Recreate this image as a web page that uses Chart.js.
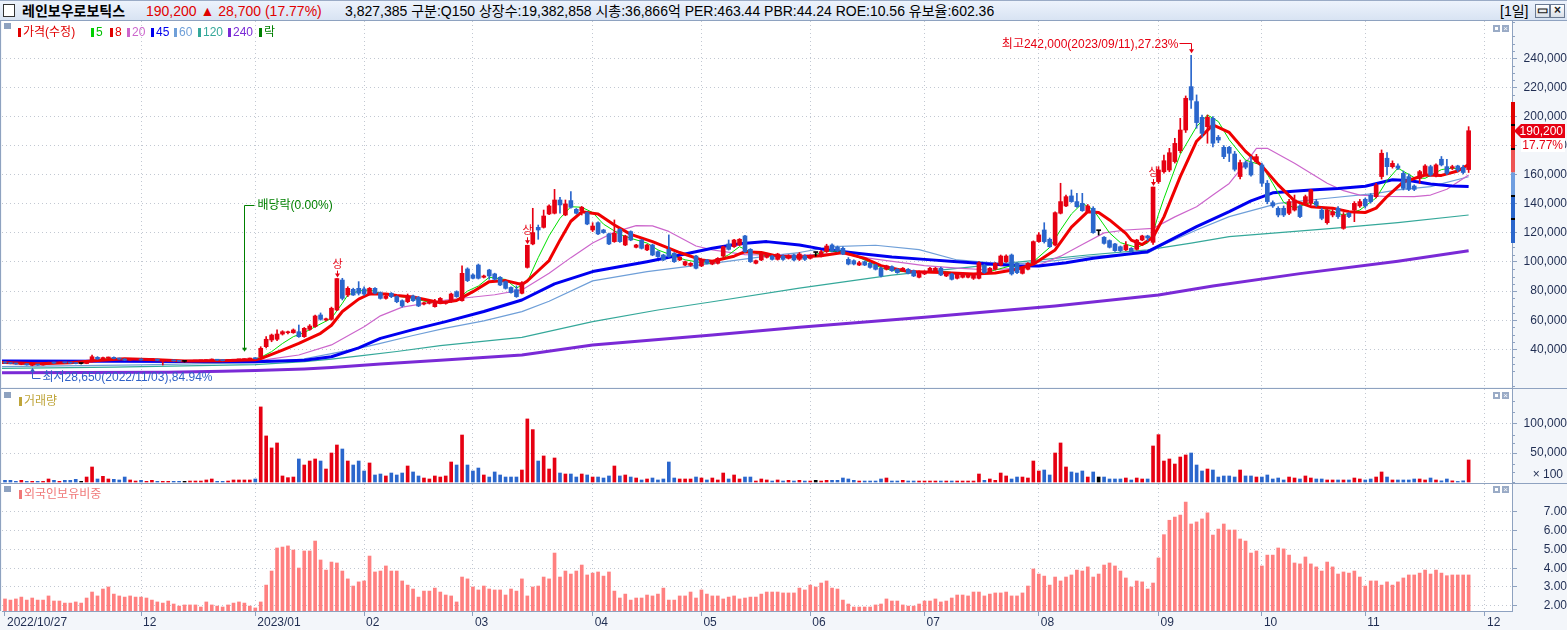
<!DOCTYPE html>
<html lang="ko">
<head>
<meta charset="utf-8">
<title>레인보우로보틱스 일봉</title>
<script src="https://cdn.jsdelivr.net/npm/chart.js@4.4.1/dist/chart.umd.min.js"></script>
<style>
*{box-sizing:border-box}
html,body{margin:0;padding:0}
body{width:1567px;height:630px;overflow:hidden;position:relative;background:#f3f6fa;font-family:"Liberation Sans","Noto Sans CJK KR",sans-serif;}
#title{position:absolute;left:0;top:0;width:1567px;height:21px;background:linear-gradient(#edf3fc,#d8e3f3);border-top:1px solid #9aabc6;border-bottom:1px solid #8ea2c0;font-size:14px;white-space:nowrap;z-index:7}
#title .t{position:absolute;top:1px;line-height:18px}
.chk{position:absolute;left:3px;top:3px;width:12px;height:13px;background:#fff;border:1px solid #333}
.tbtn{position:absolute;top:3px;width:15px;height:14px;border:1px solid #6b7a92;background:linear-gradient(#ffffff,#d9dfe8);font-size:12px;line-height:11px;text-align:center;color:#222;font-weight:bold}
canvas{position:absolute;left:0}
.hl{position:absolute;left:0;width:1567px;height:1px;background:#8ea2c0;z-index:5}
.vl{position:absolute;top:20px;left:0;width:1px;height:591px;background:#8ea2c0;z-index:5}
.leg{position:absolute;font-size:12px;line-height:14px;white-space:nowrap;z-index:6}
.mk{position:absolute;width:3px;height:9px;z-index:6}
.sq{position:absolute;left:4px;width:7px;height:6px;background:#8ea2c0;z-index:6}
.pb1{position:absolute;left:1493px;width:7px;height:7px;border:2px solid #9aabc6;background:#fff;z-index:6}
.pb2{position:absolute;left:1502px;width:7px;height:7px;background:#9aabc6;color:#fff;font-size:8px;line-height:7px;text-align:center;z-index:6}
</style>
</head>
<body>
<div id="title">
  <div class="chk"></div>
  <span class="t" style="left:22px;font-weight:bold;color:#000">레인보우로보틱스</span>
  <span class="t" style="left:146px;color:#e00000">190,200 ▲ 28,700 (17.77%)</span>
  <span class="t" style="left:345px;color:#000">3,827,385 구분:Q150 상장수:19,382,858 시총:36,866억 PER:463.44 PBR:44.24 ROE:10.56 유보율:602.36</span>
  <span class="t" style="left:1500px;color:#000">[1일]</span>
  <div class="tbtn" style="left:1535px">▭</div>
  <div class="tbtn" style="left:1550px">×</div>
</div>

<canvas id="cPrice" width="1567" height="368" style="top:20px"></canvas>
<canvas id="cVol" width="1567" height="96" style="top:388px"></canvas>
<canvas id="cFor" width="1567" height="147" style="top:483px"></canvas>

<div class="hl" style="top:388px"></div>
<div class="hl" style="top:483px"></div>
<div class="vl"></div>

<!-- price legend -->
<div class="sq" style="top:23px"></div>
<div class="mk" style="left:18px;top:28px;background:#e00000"></div><span class="leg" style="left:23px;top:25px;color:#e00000">가격(수정)</span>
<div class="mk" style="left:91px;top:28px;background:#00d000"></div><span class="leg" style="left:96px;top:25px;color:#00c000">5</span>
<div class="mk" style="left:110px;top:28px;background:#e00000"></div><span class="leg" style="left:115px;top:25px;color:#e00000">8</span>
<div class="mk" style="left:127px;top:28px;background:#cc66cc"></div><span class="leg" style="left:132px;top:25px;color:#cc66cc">20</span>
<div class="mk" style="left:151px;top:28px;background:#0000ee"></div><span class="leg" style="left:156px;top:25px;color:#0000ee">45</span>
<div class="mk" style="left:174px;top:28px;background:#6f9fd8"></div><span class="leg" style="left:179px;top:25px;color:#6f9fd8">60</span>
<div class="mk" style="left:198px;top:28px;background:#35a89a"></div><span class="leg" style="left:203px;top:25px;color:#35a89a">120</span>
<div class="mk" style="left:228px;top:28px;background:#7a2ad6"></div><span class="leg" style="left:233px;top:25px;color:#7a2ad6">240</span>
<div class="mk" style="left:259px;top:28px;background:#008000"></div><span class="leg" style="left:264px;top:25px;color:#008000">락</span>
<div class="pb1" style="top:25px"></div><div class="pb2" style="top:25px">×</div>

<!-- volume legend -->
<div class="sq" style="top:392px"></div>
<div class="mk" style="left:19px;top:397px;background:#bfa53a"></div><span class="leg" style="left:24px;top:394px;color:#bfa53a">거래량</span>
<div class="pb1" style="top:392px"></div><div class="pb2" style="top:392px">×</div>

<!-- foreign legend -->
<div class="sq" style="top:486px"></div>
<div class="mk" style="left:19px;top:490px;background:#f07878"></div><span class="leg" style="left:24px;top:487px;color:#f07878">외국인보유비중</span>
<div class="pb1" style="top:486px"></div><div class="pb2" style="top:486px">×</div>

<script>
// ---------------- DATA ----------------
const monthIdx    = [0, 25, 46, 66, 86, 108, 128, 148, 169, 190, 212, 231, 250, 272];
const monthLabels = ['2022/10/27','12','2023/01','02','03','04','05','06','07','08','09','10','11','12'];
const priceTicks   = [40000,60000,80000,100000,120000,140000,160000,180000,200000,220000,240000];
const volumeTicks  = [50000,100000];
const foreignTicks = [2,3,4,5,6,7];

const opens = [
31200,30600,30200,29700,30100,29000,29500,29200,30000,31000,
30500,31100,30700,30500,30200,30200,31500,34500,33400,34000,
34500,33700,33300,32500,33000,33300,32700,33000,33200,31800,
32300,32600,32000,31700,31700,31900,32100,32200,32600,33000,
32500,32200,32500,32800,32900,33300,34000,34900,41800,46400,
46900,50500,51400,51400,52100,48700,53700,55600,63600,60100,
60600,67000,87600,77300,81200,81900,81500,78000,81900,78900,
75000,78500,76200,73400,72700,76600,75700,71100,71600,69300,
72000,71600,72700,79600,73400,95200,91100,97900,89500,94500,
91800,89500,86500,82500,81000,78500,96300,112400,123800,123800,
133000,133500,142600,132300,142200,136200,135300,133900,122000,127000,
122000,119300,114000,122500,111700,120900,110100,115100,108300,111700,
107100,104800,108700,106000,101400,97900,97700,104100,97300,101400,
98600,99100,104100,112400,110500,111700,117900,108700,99100,101400,
103200,104100,101800,104100,102500,104800,101800,104100,102500,106500,
104100,107100,111700,110100,109400,101800,100900,97900,100200,99100,
97900,95700,95000,96800,95000,94000,95000,94000,89500,91800,
94000,94000,95700,90400,91800,88800,89500,89500,88800,88800,
97900,92700,95000,97900,100200,104800,99100,92200,95000,99100,
114000,122000,115600,111700,133500,138500,145400,141500,140300,134600,
136900,121500,117000,114700,112400,110500,108300,109400,108700,115100,
117900,113500,155200,162000,163200,169000,176500,190700,220500,210200,
199400,193000,198700,185700,178800,178800,174200,158700,168300,168300,
169000,166700,154100,140800,136900,136900,133500,135700,138500,140300,
140300,141500,135700,127000,132300,136900,123100,133500,135700,138500,
143100,146000,144900,158700,171300,165500,166000,160900,158700,152200,
157500,160500,165500,159100,170600,165500,164500,166000,165000,163500];

const highs = [
31500,30900,30500,30300,30200,29700,29800,30200,31200,31300,
31300,31300,31000,30800,30600,31600,36100,35000,34600,34700,
34800,34000,33600,33500,33600,33400,33300,33500,33300,32500,
32800,32700,32200,32000,32100,32300,32400,32800,33400,33100,
32700,32700,33000,33100,33500,34000,34400,41800,48700,50500,
53300,52800,52500,54000,56700,55000,57000,63500,65000,61500,
69000,88600,88800,83000,82000,86500,83000,82500,82500,79500,
77500,79000,76800,74000,78000,77200,76300,72500,73200,74300,
75600,73200,78600,80200,97300,96000,91800,98600,91000,95000,
92300,90000,87000,83000,83600,86500,111500,136900,125400,135700,
139200,149900,144500,142600,148300,136800,138200,134500,127000,127600,
122500,119800,128900,123000,118400,121400,112200,115600,112200,112200,
107600,105300,118600,106500,103700,100700,99600,104600,102300,101900,
100700,103000,111000,115100,115600,116100,118400,109200,101400,106000,
106000,104600,106000,105000,105000,105500,106500,105000,104800,106500,
108000,112200,112500,111000,110500,103000,101500,100500,100800,99800,
98500,96500,97800,97300,95500,96200,95500,94500,94000,94000,
96300,96300,96500,92700,92300,92300,92700,91600,91600,100200,
98500,96200,99600,104800,105000,105500,99600,96200,99600,114500,
120200,127000,116500,134500,154100,146000,149500,147200,147200,139500,
138000,121500,117500,115200,112900,111000,114000,109900,115600,118400,
118400,151500,165500,173500,178100,185000,198700,214100,242000,214800,
201000,201000,200000,187000,180000,179500,176000,170000,169500,172400,
174000,168000,156000,142000,138000,138500,143000,146000,139500,146000,
150000,143000,137000,137000,136000,138000,134000,134000,141500,143000,
144000,147000,154000,177000,175200,169500,167500,162500,160500,153000,
163000,167000,166500,167500,172500,170500,166500,166500,166500,193000];

const lows = [
30300,30000,29700,29400,29100,28650,29000,29100,29900,30300,
30400,30500,30300,30000,29900,30100,31300,33000,33100,33600,
33400,33000,32200,32300,32800,32500,32500,32800,32200,29200,
32000,31800,31500,31200,31500,31700,31900,32000,32400,32300,
32000,32000,32300,32500,32700,33100,33300,33800,41000,45200,
46000,49800,50500,51000,48200,48200,53000,55000,60000,59500,
60000,66500,73900,76200,77000,77300,77000,77300,78000,74500,
74500,75500,72000,69000,72000,72900,69300,70500,71100,68900,
71500,71000,72200,75700,73000,86500,88300,88300,89000,88100,
87600,83700,81400,78500,75700,78000,95800,111800,115600,123300,
132500,133000,133500,131800,137000,133000,132300,125600,120900,118800,
119700,111900,113500,113500,111200,114600,109600,108900,107800,104300,
103200,100900,103200,99700,100900,97400,97000,95200,96800,98600,
98100,98600,103600,108200,110000,111200,106600,99700,98600,100900,
102700,101300,101300,101000,102000,100800,101000,101000,102000,104000,
103500,106500,107000,107000,105000,98000,98000,97500,97500,95800,
94500,89800,94500,93500,92200,93500,91800,89900,89000,91300,
93500,93500,90600,89900,87600,88300,89000,89000,88000,88300,
92200,92200,94500,97400,99700,91000,92000,91700,94500,98600,
113500,113000,110000,111000,133000,138000,141000,137500,134800,134000,
119700,118500,112300,109600,107300,107000,107800,106600,108200,114600,
114600,112000,154000,161000,162000,168000,175000,189000,205600,191900,
186000,181600,179000,182000,171000,169000,162500,157000,164000,159000,
168000,152000,140000,137500,131000,131200,132500,135000,130500,139500,
139000,138000,129000,126000,131000,130000,122500,130500,127700,137500,
137000,140500,144000,157000,159800,164500,163500,149500,149000,149000,
154000,159500,159000,158500,166000,160000,163500,162000,160500,161500];

const closes = [
30600,30200,29900,30100,29300,29500,29200,30000,31000,30500,
31100,30700,30500,30200,30200,31400,34900,33400,34300,34500,
33700,33300,32500,33200,33300,32700,33100,33200,32400,32300,
32600,32000,31700,31700,31900,32100,32200,32600,33000,32500,
32200,32500,32800,32900,33300,33700,33500,40700,46900,49800,
50500,52100,51900,53300,48700,54400,56000,62900,60600,61000,
68200,88600,75000,81900,77300,78500,78000,81900,78500,75000,
76600,76200,72700,69800,76200,73400,69800,72000,72700,72700,
75000,72700,78000,76200,92200,87200,88800,88800,90400,90400,
88100,84200,81900,79000,76200,85800,111500,120200,122000,131600,
138500,142600,139200,139900,137600,133500,137600,126100,124700,119300,
120200,112400,119700,114000,117900,115100,111700,109400,111700,104800,
103700,101400,103700,100200,103200,100200,99100,95700,101800,99100,
100200,102500,110500,108700,115100,115600,107100,100200,100900,105500,
105500,101800,105500,101800,104100,101400,105500,101800,104100,106500,
107100,111000,107800,107800,105500,98600,98600,99500,97900,96300,
95000,90400,97300,94000,92700,95700,92200,90400,93400,93400,
95700,95700,91100,92200,88100,91800,92200,91100,91100,99500,
92700,95700,99100,104100,104100,91800,92700,95700,99100,114000,
118600,114000,110500,133900,141500,144900,141500,138000,135300,138500,
120200,121500,112800,110100,107800,107800,111700,107100,115100,117900,
116500,151500,163200,169600,175100,181500,190700,212500,211300,195800,
188400,199400,181600,183800,172400,174700,163700,168300,165100,159800,
172400,154100,141500,138500,132300,132300,141500,142600,131200,144900,
149500,139200,130000,135700,134600,131200,132300,131200,140300,141500,
138500,141500,152900,174700,165500,167800,164400,150600,149900,149900,
162100,166000,159800,166700,166700,160900,165500,163200,161500,190200];

const volumes = [
2900,2900,1200,2900,1200,1200,1200,1200,5200,2900,
1200,2900,2900,4600,1200,8600,25900,5200,9800,5200,
4600,3500,8600,3500,1700,2900,1200,2900,1200,1200,
1200,1200,1200,1200,1700,1700,1700,3500,5200,1200,
1200,1700,3500,3500,3500,3500,5200,129400,79400,58700,
67300,10400,7500,8600,39700,29300,36200,39700,36200,22400,
50000,63800,56900,36200,29300,36200,19000,32800,12100,13800,
10400,15500,12100,15500,27600,17300,10400,6900,5200,10400,
8600,10400,34500,29300,81000,29300,19000,24100,12100,8600,
17300,12100,8600,8600,8600,20700,108700,90300,36200,44900,
22400,41400,15500,13800,13800,8600,13800,12100,8600,8600,
6900,10400,27600,10400,12100,8600,6900,3500,5200,6900,
3500,5200,34500,6900,5200,5200,5200,8600,6900,3500,
6900,3500,15500,5200,12100,5200,8600,8600,1700,5200,
3500,1700,3500,1700,2900,1700,2900,1700,1700,2900,
1700,2900,2900,2900,6900,5200,2900,1700,1700,1700,
1700,5200,6900,1700,1700,2900,1700,1700,1700,1700,
1700,1700,1700,1700,1700,1700,1700,1700,1700,13800,
2900,5200,2900,15500,10400,5200,8600,8600,6900,36200,
19000,20700,12100,50000,67300,25900,17300,15500,19000,8600,
17300,8600,8600,5200,5200,5200,6900,3500,6900,5200,
5200,62100,81600,36200,39700,31000,43100,46600,50000,29300,
19000,22400,20700,8600,10400,10400,8600,20700,10400,10400,
8600,8600,12100,5200,6900,3500,8600,6900,5200,10400,
6900,5200,5200,3500,3500,3500,3500,3500,6900,5200,
3500,5200,8600,17300,8600,3500,3500,3500,3500,5200,
5200,3500,6900,3500,2000,5200,2000,1000,2000,38000];

const foreignRatio = [
2.36,2.30,2.36,2.46,2.30,2.41,2.30,2.30,2.52,2.25,
2.25,2.14,2.14,2.20,2.14,2.41,2.73,2.52,2.89,3.00,
2.62,2.52,2.46,2.52,2.46,2.46,2.41,2.30,2.20,2.14,
2.25,2.09,1.98,2.04,2.04,2.04,1.93,2.20,2.04,1.98,
1.93,2.04,2.14,2.20,2.14,1.98,1.88,2.20,3.10,3.85,
5.08,5.13,5.19,4.97,4.01,4.92,4.92,5.45,4.44,3.90,
4.33,4.28,3.85,3.43,3.05,3.27,3.32,4.65,3.80,3.85,
4.12,3.85,3.85,3.32,3.10,2.89,2.46,2.78,2.78,2.94,
2.73,2.57,2.52,2.20,3.53,3.43,3.00,2.84,3.05,2.89,
2.84,2.84,2.57,2.89,2.78,3.43,2.52,3.00,3.05,3.53,
3.43,4.81,3.53,3.85,3.69,3.85,4.17,3.64,3.74,3.80,
3.58,3.80,2.78,2.41,2.62,2.30,2.41,2.41,2.57,2.52,
2.62,2.94,2.30,2.30,2.52,2.52,2.73,2.41,2.84,2.62,
2.52,2.52,2.36,2.46,2.52,2.36,2.41,2.46,2.46,2.62,
2.73,2.73,2.73,2.68,2.68,2.68,2.94,2.84,3.10,3.00,
3.21,3.32,2.94,2.89,2.30,2.09,1.93,1.93,1.93,1.93,
2.04,2.09,2.36,2.25,2.25,2.04,1.98,1.98,2.09,2.25,
2.25,2.36,2.20,2.25,2.41,2.57,2.57,2.52,2.73,2.73,
2.52,2.62,2.68,2.68,2.73,2.52,2.52,2.68,3.05,3.96,
3.69,3.58,3.10,3.53,3.32,3.53,3.64,3.90,3.85,4.07,
3.53,3.69,4.17,4.28,4.12,3.85,3.48,3.00,3.32,3.27,
2.89,3.21,4.55,5.79,6.56,6.73,6.84,7.53,6.36,6.47,
6.63,6.95,5.77,6.09,6.36,6.04,6.04,5.56,5.45,4.81,
4.92,4.12,4.70,4.70,5.08,5.03,4.70,4.28,4.23,4.60,
4.23,4.07,3.85,4.33,4.07,3.69,3.80,3.74,3.85,3.53,
3.05,3.32,3.32,3.10,3.27,3.10,3.27,3.48,3.64,3.64,
3.74,3.90,3.69,3.90,3.74,3.60,3.64,3.64,3.64,3.64];

// moving averages: [day index, value] (index -1 = left edge of the window)
const ma5 = [[-1,30800],[0,30600],[4,29900],[8,30000],[12,30900],[16,32200],[19,33600],[23,33600],[27,32800],[31,32300],[35,31900],[40,32400],[44,32700],[46,33200],[47,34500],[49,38400],[51,44000],[53,48700],[55,51500],[57,55500],[60,61300],[62,71600],[63,77300],[65,80100],[67,80800],[69,78500],[72,76600],[75,75000],[78,72300],[81,72600],[83,74000],[85,80000],[87,83500],[89,89500],[92,88000],[94,82000],[96,86500],[98,103000],[100,118000],[102,130000],[104,138000],[106,137600],[108,134000],[110,126000],[113,119000],[115,116300],[118,113000],[120,108300],[123,104000],[125,101500],[128,99500],[130,99100],[133,105000],[135,110500],[137,107000],[140,104100],[144,103700],[148,104000],[151,107500],[154,107500],[158,101400],[161,96000],[164,93500],[169,93000],[173,93400],[177,90800],[180,92500],[182,94500],[185,97500],[187,96000],[189,100200],[192,110000],[194,122000],[196,133000],[198,140300],[200,136000],[203,120000],[205,113300],[208,110000],[210,113000],[211,120000],[212,132800],[213,143700],[216,174000],[219,193000],[221,201000],[223,196500],[225,184000],[228,170000],[231,166500],[233,154000],[235,141000],[237,137000],[240,141000],[243,135700],[246,132300],[249,135700],[252,144000],[254,156000],[256,164500],[259,158000],[261,157500],[264,163500],[266,164500],[268,163500],[269,167000]];
const ma8 = [[-1,31000],[0,30900],[6,30000],[12,30700],[17,32300],[22,33500],[28,32800],[33,32000],[40,32200],[46,32800],[47,33600],[51,39500],[54,44100],[58,51000],[60,56500],[62,66000],[65,74500],[67,78000],[70,78000],[72,77000],[75,76000],[80,72000],[83,73500],[86,79600],[89,86500],[92,87200],[95,84500],[96,87000],[98,94000],[100,101000],[102,115000],[104,128000],[106,134500],[109,133000],[112,125400],[115,119000],[119,114000],[124,106500],[128,101400],[130,100500],[134,104000],[136,107100],[139,106500],[142,104000],[146,103500],[150,104300],[154,106500],[158,102500],[161,97500],[166,93400],[172,92700],[178,91700],[182,92500],[186,95000],[189,98500],[193,108300],[196,124000],[199,134600],[201,134000],[203,128900],[206,119700],[207,115000],[209,112000],[211,117000],[212,124000],[213,131000],[216,158700],[219,183000],[222,194200],[225,189000],[228,176000],[231,166000],[234,153000],[237,142000],[240,138000],[244,137000],[247,134600],[250,134000],[252,137000],[254,145000],[257,155000],[261,159800],[264,159500],[267,162500],[269,167000]];
const ma20 = [[-1,31000],[20,31800],[35,32400],[46,32300],[48,32900],[54,36100],[60,43000],[66,55500],[69,63000],[73,69000],[81,73900],[90,77500],[95,80800],[100,92200],[104,103000],[108,113000],[112,120500],[116,125000],[119,124800],[122,121000],[127,111000],[130,108300],[136,105000],[146,104500],[153,106000],[160,102000],[169,97500],[175,95800],[181,94500],[186,95800],[190,97900],[194,104000],[198,112000],[202,120000],[206,122000],[211,123100],[215,131000],[219,138000],[222,146000],[225,154000],[228,168000],[230,178100],[232,178100],[235,172000],[237,167800],[240,161000],[243,154100],[246,149000],[249,146000],[254,145000],[259,144900],[262,146000],[265,150000],[269,159800]];
const ma45 = [[-1,32000],[20,31800],[46,31500],[55,32500],[60,34900],[65,41000],[69,47500],[75,53500],[81,59000],[88,66000],[95,73900],[101,85000],[108,93400],[118,100200],[125,105500],[130,109400],[135,112500],[140,114000],[146,111700],[150,109000],[157,105900],[163,103500],[169,101800],[175,100200],[181,98600],[186,97500],[190,97300],[195,99500],[200,102500],[205,104800],[210,107100],[213,112800],[219,124300],[225,134600],[229,142000],[233,147500],[240,149500],[245,150500],[250,152000],[255,156500],[258,156000],[262,153600],[266,152300],[269,151800]];
const ma60 = [[-1,28100],[25,29300],[46,30800],[50,31800],[55,33500],[60,37000],[66,41500],[69,44100],[75,49500],[81,54500],[88,59500],[95,65900],[100,73000],[108,87000],[118,93400],[130,99000],[140,104000],[146,106500],[152,110500],[160,111500],[168,108500],[175,101400],[181,99500],[187,99100],[193,101000],[199,103700],[205,105000],[210,106000],[213,112000],[219,122000],[225,131200],[234,140300],[243,143800],[252,147200],[256,149500],[262,151800],[269,158600]];
const ma120 = [[-1,26900],[20,27800],[46,29500],[55,31500],[60,33200],[66,35800],[72,38500],[80,42500],[95,48200],[108,59000],[120,67000],[130,72700],[146,82000],[163,91000],[175,95600],[187,100200],[199,104800],[210,108300],[218,113000],[225,117400],[244,123100],[256,127000],[269,132300]];
const ma240 = [[-1,23800],[30,24300],[40,25000],[46,25400],[55,26500],[60,27500],[69,29900],[80,32500],[95,36100],[108,42900],[130,49800],[146,55100],[169,62000],[193,69800],[212,77300],[222,83500],[238,92000],[256,100500],[269,107700]];

// annotations
const highMark = {idx: 218, text: '최고242,000(2023/09/11),27.23%'};
const lowMark  = {idx: 5,   text: '최저28,650(2022/11/03),84.94%'};
const divMark  = {idx: 44,  text: '배당락(0.00%)'};
const limitUpDays = [61, 96, 211];
const changePctText = '17.77%';
// daily price limit band of the last session
const prevClose = 161500, limitUp = 209950, limitDown = 113050;
const bandUp1 = 177650, bandUp2 = 193800, bandDn1 = 145350, bandDn2 = 129200;

// ---------------- STYLE ----------------
const FONT = '"Liberation Sans","Noto Sans CJK KR",sans-serif';
const AXIS_COLOR = '#8ea2c0', GRID_COLOR = '#c2c8d2', LABEL_COLOR = '#1f2d52';
const UP = '#e60012', DOWN = '#2a66cc', FLAT = '#000000';
const X_MIN = -0.551, X_MAX = 276.97;
Chart.defaults.font.family = FONT;

const dayIdx = closes.map((c, i) => i);
const candleColors = closes.map((c, i) => c > opens[i] ? UP : (c < opens[i] ? DOWN : FLAT));
const fmtNum = v => Number(v).toLocaleString('en-US');

function xAxis(withLabels) {
  return {
    type: 'linear', min: X_MIN, max: X_MAX, offset: false,
    afterBuildTicks: s => { s.ticks = monthIdx.map(v => ({value: v})); },
    afterFit: s => { s.height = withLabels ? 19 : 0; s.paddingLeft = 0; s.paddingRight = 0; },
    ticks: { display: withLabels, autoSkip: false, maxRotation: 0, minRotation: 0, align: 'start',
             labelOffset: 2, padding: -1, color: LABEL_COLOR, font: {family: FONT, size: 12},
             callback: (v, i) => monthLabels[i] },
    grid: { offset: false, color: ctx => ctx.index === 0 ? 'rgba(0,0,0,0)' : GRID_COLOR,
            drawTicks: withLabels, tickLength: 5, tickColor: AXIS_COLOR, lineWidth: 1 },
    border: { display: withLabels, color: AXIS_COLOR, dash: [1, 3] }
  };
}
function yAxis(min, max, ticksArr, fmt, pad) {
  return {
    type: 'linear', position: 'right', min, max, beginAtZero: false,
    afterBuildTicks: s => { s.ticks = ticksArr.map(v => ({value: v})); },
    afterFit: s => { s.width = 55; s.paddingTop = 0; s.paddingBottom = 0; },
    ticks: { color: LABEL_COLOR, font: {family: FONT, size: 12}, padding: pad, crossAlign: 'far', callback: fmt },
    grid: { color: GRID_COLOR, drawTicks: true, tickLength: 5, tickColor: AXIS_COLOR, lineWidth: 1 },
    border: { display: true, color: AXIS_COLOR, dash: [1, 3] }
  };
}
function lineDs(pts, color, width, order) {
  return { type: 'line', data: pts.map(p => ({x: p[0], y: p[1]})), borderColor: color, borderWidth: width,
           pointRadius: 0, tension: 0, fill: false, order, borderJoinStyle: 'round' };
}
const common = {
  responsive: false, animation: false, events: [],
  plugins: { legend: {display: false}, tooltip: {enabled: false} }
};
const bgPlugin = {
  id: 'areaBg',
  beforeDraw(c) { const a = c.chartArea, ctx = c.ctx; ctx.save(); ctx.fillStyle = '#ffffff';
    ctx.fillRect(a.left, a.top, a.right - a.left, a.bottom - a.top); ctx.restore(); }
};
function minorTicks(ctx, ys, values) {
  ctx.save(); ctx.strokeStyle = AXIS_COLOR; ctx.lineWidth = 1;
  values.forEach(v => { const y = Math.round(ys.getPixelForValue(v)) + 0.5;
    if (y < ys.top || y > ys.bottom) return;
    ctx.beginPath(); ctx.moveTo(ys.left, y); ctx.lineTo(ys.left + 3, y); ctx.stroke(); });
  ctx.restore();
}
function arrowHead(ctx, x, tipY, dir) {
  ctx.beginPath(); ctx.moveTo(x - 2.5, tipY - 4 * dir); ctx.lineTo(x + 2.5, tipY - 4 * dir); ctx.lineTo(x, tipY); ctx.closePath(); ctx.fill();
}

// ---------------- PRICE PANEL ----------------
const priceMinor = [];
for (let v = 15000; v <= 265000; v += 5000) if (v % 20000 !== 0) priceMinor.push(v);

const pricePlugin = {
  id: 'priceExtras',
  afterDatasetsDraw(c) {
    const ctx = c.ctx, xs = c.scales.x, ys = c.scales.y;
    ctx.save();
    ctx.lineWidth = 1; ctx.textBaseline = 'middle';
    // limit-up marks
    ctx.fillStyle = UP; ctx.strokeStyle = UP; ctx.font = '11px ' + FONT; ctx.textAlign = 'center';
    limitUpDays.forEach(d => {
      const px = Math.round(xs.getPixelForValue(d)) + 0.5, py = ys.getPixelForValue(highs[d]);
      ctx.fillText('상', px, py - 14);
      ctx.beginPath(); ctx.moveTo(px, py - 8); ctx.lineTo(px, py - 3); ctx.stroke();
      arrowHead(ctx, px, py - 1, 1);
    });
    // highest
    ctx.font = '12px ' + FONT;
    const hx = Math.round(xs.getPixelForValue(highMark.idx)) + 0.5, hy = ys.getPixelForValue(highs[highMark.idx]);
    const ay = Math.round(hy - 12) + 0.5;
    ctx.beginPath(); ctx.moveTo(hx - 12, ay); ctx.lineTo(hx, ay); ctx.lineTo(hx, hy - 5); ctx.stroke();
    arrowHead(ctx, hx, hy - 2, 1);
    ctx.textAlign = 'right'; ctx.fillText(highMark.text, hx - 13, ay + 1);
    // lowest
    const LOWC = '#2f62c8';
    ctx.fillStyle = LOWC; ctx.strokeStyle = LOWC;
    const lx = Math.round(xs.getPixelForValue(lowMark.idx)) + 0.5, ly = ys.getPixelForValue(lows[lowMark.idx]);
    const by = Math.round(ly + 12) + 0.5;
    ctx.beginPath(); ctx.moveTo(lx + 8, by); ctx.lineTo(lx, by); ctx.lineTo(lx, ly + 5); ctx.stroke();
    arrowHead(ctx, lx, ly + 2, -1);
    ctx.textAlign = 'left'; ctx.fillText(lowMark.text, lx + 10, by - 1);
    // ex-dividend
    const DIVC = '#008000';
    ctx.fillStyle = DIVC; ctx.strokeStyle = DIVC;
    const dx = Math.round(xs.getPixelForValue(divMark.idx)) + 0.5, dyv = ys.getPixelForValue(highs[divMark.idx]);
    const dTop = Math.round(dyv - 154) + 0.5;
    ctx.beginPath(); ctx.moveTo(dx + 10, dTop); ctx.lineTo(dx, dTop); ctx.lineTo(dx, dyv - 10); ctx.stroke();
    arrowHead(ctx, dx, dyv - 7, 1);
    ctx.fillText(divMark.text, dx + 13, dTop);
    ctx.restore();
  },
  afterDraw(c) {
    const ctx = c.ctx, ys = c.scales.y, L = ys.left;
    minorTicks(ctx, ys, priceMinor);
    ctx.save();
    // price limit band
    [[limitUp, bandUp1, '#e00000'], [bandUp1, prevClose, '#ee5555'], [prevClose, bandDn1, '#6f9ee0'], [bandDn1, limitDown, '#2a66cc']]
      .forEach(s => { const y1 = ys.getPixelForValue(s[0]), y2 = ys.getPixelForValue(s[1]);
        ctx.fillStyle = s[2]; ctx.fillRect(L - 1, y1, 4, y2 - y1); });
    ctx.fillStyle = '#000';
    [bandUp2, bandUp1, bandDn1, bandDn2].forEach(v => { ctx.fillRect(L - 1, Math.round(ys.getPixelForValue(v)) - 1, 4, 2); });
    // current price box
    const last = closes.length - 1;
    const cy = Math.round(ys.getPixelForValue(closes[last]));
    ctx.fillStyle = UP;
    ctx.beginPath(); ctx.moveTo(L + 2, cy); ctx.lineTo(L + 9, cy - 7); ctx.lineTo(L + 53, cy - 7);
    ctx.lineTo(L + 53, cy + 7); ctx.lineTo(L + 9, cy + 7); ctx.closePath(); ctx.fill();
    ctx.font = '12px ' + FONT; ctx.textAlign = 'right'; ctx.textBaseline = 'middle';
    ctx.fillStyle = '#ffffff'; ctx.fillText(fmtNum(closes[last]), L + 51, cy + 1);
    ctx.fillRect(L + 9, cy + 8, 44, 13);
    ctx.fillStyle = UP; ctx.fillText(changePctText, L + 51, cy + 15);
    ctx.restore();
  }
};

new Chart(document.getElementById('cPrice'), {
  type: 'bar',
  data: { datasets: [
    { type: 'bar', data: dayIdx.map(i => ({x: i, y: [opens[i], closes[i]]})), backgroundColor: candleColors,
      barThickness: 4, minBarLength: 1, grouped: false, order: 0 },
    { type: 'bar', data: dayIdx.map(i => ({x: i, y: [lows[i], highs[i]]})), backgroundColor: candleColors,
      barThickness: 1, grouped: false, order: 1 },
    lineDs(ma8, '#f00000', 3, 2),
    lineDs(ma5, '#00e000', 1, 3),
    lineDs(ma45, '#0000f0', 3, 4),
    lineDs(ma20, '#cc66cc', 1.2, 5),
    lineDs(ma60, '#6f9fd8', 1.2, 6),
    lineDs(ma120, '#35a89a', 1.2, 7),
    lineDs(ma240, '#7a2ad6', 3, 8)
  ]},
  options: Object.assign({}, common, {
    layout: { padding: {left: 2, right: 0, top: 1, bottom: 1} },
    scales: { x: xAxis(false), y: yAxis(14100, 265600, priceTicks, v => fmtNum(v), 3) }
  }),
  plugins: [bgPlugin, pricePlugin]
});

// ---------------- VOLUME PANEL ----------------
const volPlugin = {
  id: 'volExtras',
  afterDraw(c) {
    const ctx = c.ctx, ys = c.scales.y;
    minorTicks(ctx, ys, [0, 17000, 31000, 67000, 81000, 120000, 140000]);
    ctx.save(); ctx.font = '12px ' + FONT; ctx.fillStyle = LABEL_COLOR; ctx.textAlign = 'right'; ctx.textBaseline = 'middle';
    ctx.fillText('× 100', 1563, ys.bottom - 8);
    ctx.restore();
  }
};
new Chart(document.getElementById('cVol'), {
  type: 'bar',
  data: { datasets: [
    { data: dayIdx.map(i => ({x: i, y: volumes[i]})), backgroundColor: candleColors, barThickness: 3, grouped: false }
  ]},
  options: Object.assign({}, common, {
    layout: { padding: {left: 2, right: 0, top: 1, bottom: 1} },
    scales: { x: xAxis(false), y: yAxis(-1700, 160300, volumeTicks, v => fmtNum(v), 3) }
  }),
  plugins: [bgPlugin, volPlugin]
});

// ---------------- FOREIGN OWNERSHIP PANEL ----------------
new Chart(document.getElementById('cFor'), {
  type: 'bar',
  data: { datasets: [
    { data: dayIdx.map(i => ({x: i, y: foreignRatio[i]})), backgroundColor: '#ff8080', barThickness: 3, grouped: false }
  ]},
  options: Object.assign({}, common, {
    layout: { padding: {left: 2, right: 0, top: 1, bottom: 0} },
    scales: { x: xAxis(true), y: yAxis(1.717, 8.494, foreignTicks, v => Number(v).toFixed(2), 23) }
  }),
  plugins: [bgPlugin]
});
</script>
</body>
</html>
